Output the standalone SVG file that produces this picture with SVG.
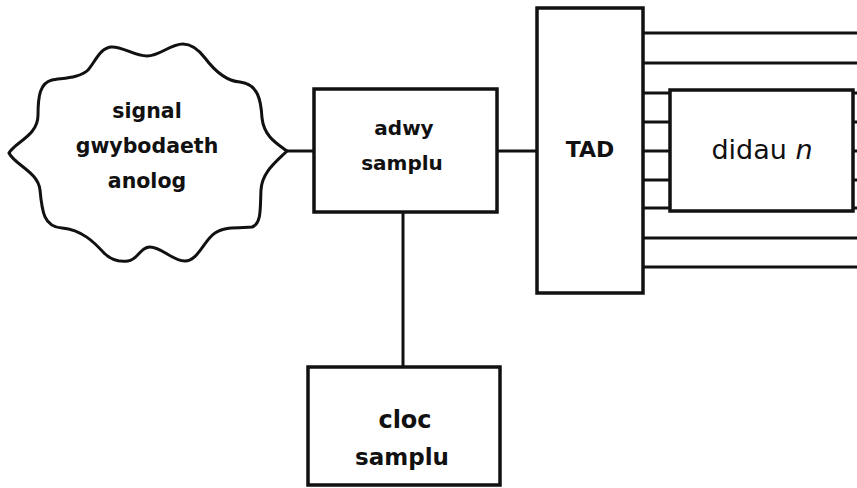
<svg xmlns="http://www.w3.org/2000/svg" width="857" height="488" viewBox="0 0 857 488">
<style>
.box{fill:#fff;stroke:#111;stroke-width:3.5}
.ln{stroke:#111;stroke-width:3;fill:none}
.t{font-family:"DejaVu Sans",sans-serif;font-weight:bold;fill:#111;text-anchor:middle}
.r{font-family:"DejaVu Sans",sans-serif;fill:#111;text-anchor:middle}
</style>
<rect width="857" height="488" fill="#fff"/>
<g id="connectors">
<line class="ln" x1="287" y1="151" x2="314" y2="151"/>
<line class="ln" x1="497" y1="151" x2="537" y2="151"/>
<line class="ln" x1="403" y1="212" x2="403" y2="367"/>
<line class="ln" x1="643" y1="33" x2="857" y2="33"/>
<line class="ln" x1="643" y1="63" x2="857" y2="63"/>
<line class="ln" x1="643" y1="238" x2="857" y2="238"/>
<line class="ln" x1="643" y1="267" x2="857" y2="267"/>
<line class="ln" x1="643" y1="93" x2="670" y2="93"/>
<line class="ln" x1="643" y1="122" x2="670" y2="122"/>
<line class="ln" x1="643" y1="151" x2="670" y2="151"/>
<line class="ln" x1="643" y1="180" x2="670" y2="180"/>
<line class="ln" x1="643" y1="208" x2="670" y2="208"/>
<line class="ln" x1="853" y1="93" x2="857" y2="93"/>
<line class="ln" x1="853" y1="122" x2="857" y2="122"/>
<line class="ln" x1="853" y1="151" x2="857" y2="151"/>
<line class="ln" x1="853" y1="180" x2="857" y2="180"/>
<line class="ln" x1="853" y1="208" x2="857" y2="208"/>
</g>
<g id="signal">
<path fill="#fff" stroke="#111" stroke-width="3" d="M287,151 C276,143 264,136 262,118 C261,100 258,84 240,82 C226,81 214,70 205,58 C198,49 191,44 183,44 C170,44 160,56 147,56 C134,56 122,46 111,47 C100,48 95,62 88,70 C80,78 62,78 52,80 C40,83 38,96 38,115 C38,136 15,142 9,153 C15,165 38,172 40,190 C42,212 44,227 62,228 C82,230 94,242 104,253 C112,261 120,262 128,261 C138,260 140,247 150,247 C162,247 172,261 185,261 C198,261 204,240 215,233 C226,226 242,228 252,227 C262,224 260,206 261,190 C262,172 276,162 287,151 Z"/>
<text class="t" x="147" y="118" font-size="20.5">signal</text>
<text class="t" x="147" y="153" font-size="20.5">gwybodaeth</text>
<text class="t" x="147" y="188" font-size="20.5">anolog</text>
</g>
<g id="adwy">
<rect class="box" x="314" y="89" width="183" height="123"/>
<text class="t" x="404" y="135" font-size="20">adwy</text>
<text class="t" x="402" y="170" font-size="20">samplu</text>
</g>
<g id="tad">
<rect class="box" x="537" y="8" width="106" height="285"/>
<text class="t" x="590" y="157" font-size="22">TAD</text>
</g>
<g id="didau">
<rect class="box" x="670" y="90" width="183" height="121"/>
<text class="r" x="762" y="159" font-size="27">didau <tspan font-style="italic">n</tspan></text>
</g>
<g id="cloc">
<rect class="box" x="308" y="367" width="192" height="118"/>
<text class="t" x="405" y="428" font-size="24">cloc</text>
<text class="t" x="402" y="465" font-size="23">samplu</text>
</g>
</svg>
